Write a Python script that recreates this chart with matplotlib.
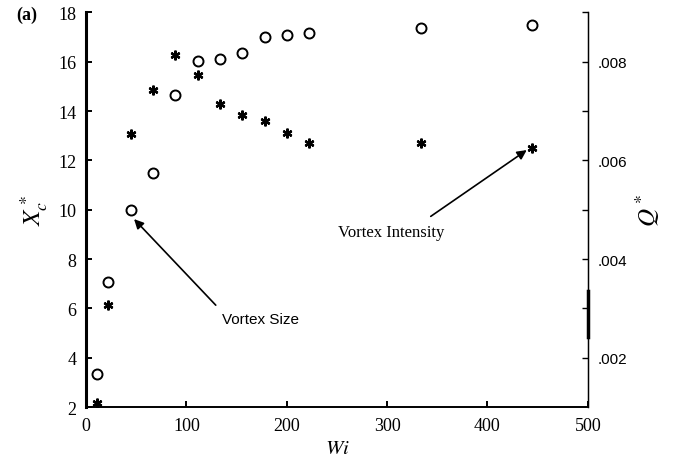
import matplotlib
matplotlib.use("Agg")
import matplotlib.pyplot as plt

plt.rcParams["mathtext.fontset"] = "stix"

# Weissenberg numbers of the runs
wi = [11.1, 22.2, 44.4, 66.7, 88.9, 111.1, 133.3, 155.6, 177.8, 200.0, 222.2, 333.3, 444.4]
# vortex size (left axis)
xc = [3.35, 7.05, 10.0, 11.5, 14.65, 16.02, 16.1, 16.35, 17.02, 17.08, 17.18, 17.38, 17.48]
# vortex intensity (right axis)
q = [0.00108, 0.00306, 0.00653, 0.00743, 0.00813, 0.00773, 0.00714,
     0.00692, 0.00680, 0.00656, 0.00635, 0.00635, 0.00626]

left_ticks = [2, 4, 6, 8, 10, 12, 14, 16, 18]
right_major = [0.002, 0.004, 0.006, 0.008]
right_labels = [".002", ".004", ".006", ".008"]
right_minor = [0.003, 0.005, 0.007, 0.009]
x_ticks = [0, 100, 200, 300, 400, 500]

serif = "Liberation Serif"
sans = "Liberation Sans"

fig = plt.figure(figsize=(6.78, 4.6), dpi=100)
ax = fig.add_axes([0.127, 0.113, 0.740, 0.858])
ax2 = ax.twinx()

ax.plot(wi, xc, linestyle="none", marker="o", markersize=7.2,
        markerfacecolor="white", markeredgecolor="black", markeredgewidth=1.4, zorder=3)
# asterisk symbols: spokes plus a solid core
ax2.plot(wi, q, linestyle="none", marker=(6, 2, 0), markersize=7,
         markeredgewidth=1.6, color="black", zorder=3)
ax2.plot(wi, q, linestyle="none", marker="o", markersize=3.5,
         color="black", zorder=3)

ax.set_xlim(0, 500)
ax.set_ylim(2, 18)
ax2.set_ylim(0.001, 0.009)

for a in (ax, ax2):
    a.spines["top"].set_visible(False)
ax.spines["left"].set_linewidth(2.2)
ax.spines["bottom"].set_linewidth(1.4)
ax2.spines["right"].set_linewidth(1.0)
ax2.spines["left"].set_visible(False)
ax2.spines["bottom"].set_visible(False)

ax.set_xticks(x_ticks)
ax.set_xticklabels([str(t) for t in x_ticks], fontfamily=serif, fontsize=13)
ax.set_yticks(left_ticks)
ax.set_yticklabels([str(t) for t in left_ticks], fontfamily=serif, fontsize=13)
ax.tick_params(axis="both", direction="in", length=4, width=1.4, pad=7)

ax2.set_yticks(right_major)
ax2.set_yticklabels(right_labels, fontfamily=sans, fontsize=11)
ax2.set_yticks(right_minor, minor=True)
ax2.tick_params(axis="y", which="both", direction="in", length=4, width=1.0, pad=7)

# dark smudge on the right-hand axis
ax2.plot([500, 500], [0.00242, 0.00335], color="black", linewidth=2.5,
         clip_on=False, zorder=4)

ax.set_xlabel("$Wi$", fontsize=15, labelpad=2)
ax.set_ylabel(r"$X_c^*$", fontsize=18, labelpad=6)
ax2.set_ylabel(r"$Q^*$", fontsize=18, rotation=90, labelpad=4)

fig.text(0.04, 0.967, "(a)", fontsize=13, fontweight="bold", fontfamily=serif,
         ha="center", va="center")

ax.annotate("Vortex Size", xy=(wi[2] + 1.5, xc[2] - 0.3), xytext=(174, 5.57),
            fontsize=11, fontfamily=sans, ha="center", va="center",
            arrowprops=dict(arrowstyle="-|>", color="black", lw=1.2,
                            mutation_scale=14, shrinkA=4, shrinkB=2,
                            relpos=(0.0, 1.0)))
ax2.annotate("Vortex Intensity", xy=(wi[-1] - 3, q[-1] - 0.00002), xytext=(304, 0.00455),
             fontsize=12, fontfamily=serif, ha="center", va="center",
             arrowprops=dict(arrowstyle="-|>", color="black", lw=1.2,
                             mutation_scale=14, shrinkA=6, shrinkB=2,
                             relpos=(0.77, 1.0)))

fig.savefig("out.png", dpi=100)
